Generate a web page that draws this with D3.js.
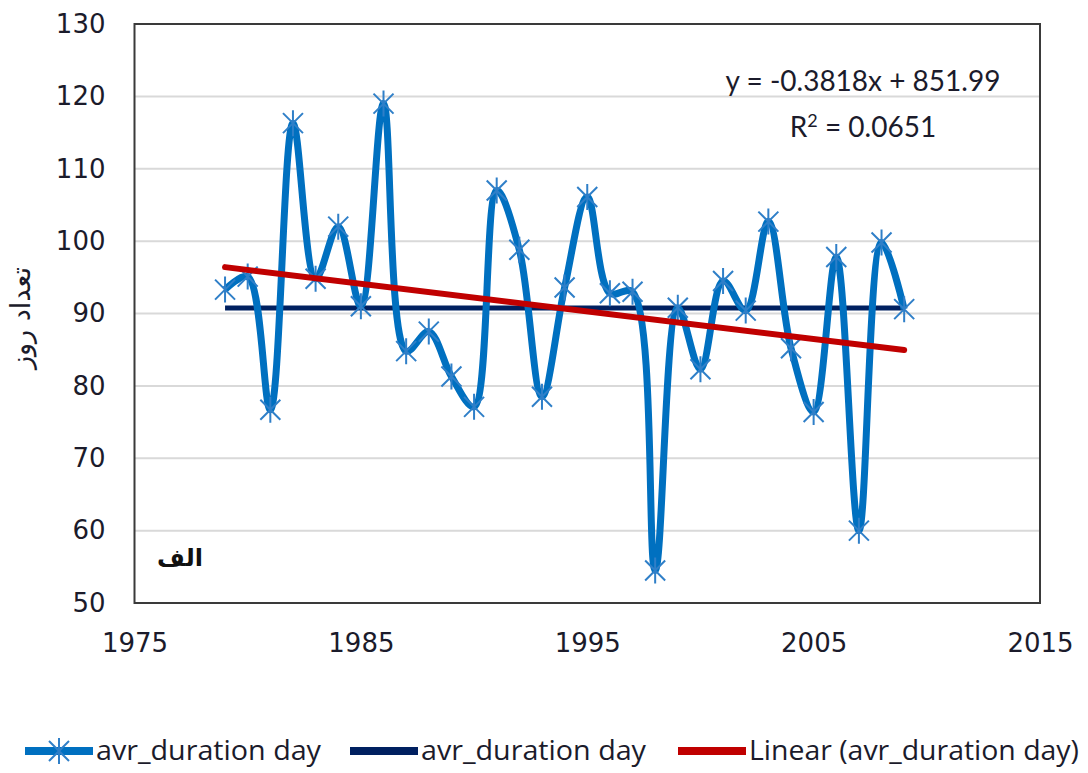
<!DOCTYPE html>
<html>
<head>
<meta charset="utf-8">
<script src="https://cdn.jsdelivr.net/npm/d3@7.9.0/dist/d3.min.js"></script>
<style>
  body { margin: 0; background: #fff; }
  svg { display: block; }
</style>
</head>
<body>
<svg id="chart" width="1088" height="773"></svg>
<script>
// Data
const years = d3.range(1979, 2010);
const durations = [93.3, 95.1, 76.7, 116.3, 94.8, 102.0, 91.0, 119.0, 84.8, 87.5,
  81.3, 77.1, 107.0, 98.8, 78.5, 93.6, 106.1, 92.8, 93.0, 54.5, 90.8, 82.3, 94.5,
  90.4, 102.7, 85.2, 76.4, 97.8, 60.0, 99.8, 90.6];
const trendCoef = [-0.3818, 851.99]; // slope, intercept
const trendR2 = 0.0651;
const xTicks = [1975, 1985, 1995, 2005, 2015];
const yTicks = [50, 60, 70, 80, 90, 100, 110, 120, 130];
const legendLabels = ["avr_duration day", "avr_duration day", "Linear (avr_duration day)"];
const yTitle = "تعداد روز";
const panelLabel = "الف";

const svg = d3.select("#chart");
const plot = { left: 134.5, right: 1040, top: 24, bottom: 603 };

const x = d3.scaleLinear().domain([1975, 2015]).range([plot.left, plot.right]);
const y = d3.scaleLinear().domain([50, 130]).range([plot.bottom, plot.top]);

const blue = "#0070C0";
const markerBlue = "#2f7fc8";
const navy = "#002060";
const red = "#C00000";
const textColor = "#1b1b2b";

// gridlines
svg.append("g")
  .selectAll("line")
  .data(yTicks.filter(d => d > 50 && d < 130))
  .join("line")
  .attr("x1", plot.left).attr("x2", plot.right)
  .attr("y1", d => y(d)).attr("y2", d => y(d))
  .attr("stroke", "#d9d9d9").attr("stroke-width", 2);

// axes (labels only, Excel style)
const yAxis = svg.append("g")
  .attr("transform", `translate(${plot.left},0)`)
  .call(d3.axisLeft(y).tickValues(yTicks).tickSize(0).tickPadding(29));
const xAxis = svg.append("g")
  .attr("transform", `translate(0,${plot.bottom})`)
  .call(d3.axisBottom(x).tickValues(xTicks).tickFormat(d3.format("d")).tickSize(0).tickPadding(31));
[yAxis, xAxis].forEach(g => {
  g.select(".domain").remove();
  g.selectAll("text")
    .attr("fill", textColor)
    .style("font-family", "DejaVu Sans, Verdana, sans-serif")
    .style("font-size", "26px");
});

// plot border
svg.append("rect")
  .attr("x", plot.left).attr("y", plot.top)
  .attr("width", plot.right - plot.left).attr("height", plot.bottom - plot.top)
  .attr("fill", "none").attr("stroke", "#3a3a3a").attr("stroke-width", 2);

// mean line
const meanVal = d3.mean(durations);
svg.append("line")
  .attr("x1", x(years[0])).attr("x2", x(years[years.length - 1]))
  .attr("y1", y(meanVal)).attr("y2", y(meanVal))
  .attr("stroke", navy).attr("stroke-width", 5);

// smoothed data line
const line = d3.line()
  .x((d, i) => x(years[i]))
  .y(d => y(d))
  .curve(d3.curveCatmullRom.alpha(0.5));
svg.append("path")
  .datum(durations)
  .attr("d", line)
  .attr("fill", "none")
  .attr("stroke", blue)
  .attr("stroke-width", 7)
  .attr("stroke-linejoin", "round");

// star markers
function star(g, s) {
  g.append("path")
    .attr("d", `M${-s},${-s}L${s},${s}M${-s},${s}L${s},${-s}M0,${-s * 1.3}L0,${s * 1.3}`)
    .attr("stroke", markerBlue).attr("stroke-width", 2).attr("fill", "none");
}
svg.append("g")
  .selectAll("g")
  .data(durations)
  .join("g")
  .attr("transform", (d, i) => `translate(${x(years[i])},${y(d)})`)
  .each(function () { star(d3.select(this), 10); });

// linear trend
const trend = yr => trendCoef[0] * yr + trendCoef[1];
svg.append("line")
  .attr("x1", x(years[0])).attr("y1", y(trend(years[0])))
  .attr("x2", x(years[years.length - 1])).attr("y2", y(trend(years[years.length - 1])))
  .attr("stroke", red).attr("stroke-width", 6).attr("stroke-linecap", "round");

// equation text
const eq = svg.append("g")
  .attr("font-family", "Lato, 'Open Sans', sans-serif")
  .attr("font-size", 28)
  .attr("fill", textColor)
  .attr("text-anchor", "middle");
eq.append("text")
  .attr("x", 863).attr("y", 91)
  .text(`y = ${trendCoef[0]}x + ${trendCoef[1]}`);
const r2 = eq.append("text").attr("x", 863).attr("y", 137);
r2.append("tspan").text("R");
r2.append("tspan").attr("dy", -10).attr("font-size", 18).text("2");
r2.append("tspan").attr("dy", 10).text(` = ${trendR2}`);

// panel label
svg.append("text")
  .attr("x", 180).attr("y", 566)
  .attr("text-anchor", "middle")
  .attr("font-family", "DejaVu Sans, sans-serif")
  .attr("font-weight", "bold")
  .attr("font-size", 24)
  .attr("fill", "#111")
  .text(panelLabel);

// y axis title
svg.append("text")
  .attr("transform", "translate(30,318) rotate(-90)")
  .attr("text-anchor", "middle")
  .attr("font-family", "DejaVu Sans, sans-serif")
  .attr("font-size", 27)
  .attr("fill", textColor)
  .text(yTitle);

// legend
const legendItems = [
  { x1: 25, x2: 93, color: blue, marker: true, tx: 96, tw: 225 },
  { x1: 350, x2: 418, color: navy, marker: false, tx: 421, tw: 225 },
  { x1: 678, x2: 746, color: red, marker: false, tx: 749, tw: 330 }
];
const legend = svg.append("g");
legendItems.forEach((it, i) => {
  const g = legend.append("g");
  g.append("line")
    .attr("x1", it.x1).attr("x2", it.x2).attr("y1", 751).attr("y2", 751)
    .attr("stroke", it.color).attr("stroke-width", 8);
  if (it.marker) {
    const m = g.append("g").attr("transform", `translate(${(it.x1 + it.x2) / 2},751)`);
    star(m, 10);
  }
  g.append("text")
    .attr("x", it.tx).attr("y", 760)
    .attr("font-family", "'Liberation Sans Narrow', 'Open Sans', sans-serif")
    .attr("font-size", 27)
    .attr("fill", textColor)
    .attr("textLength", it.tw)
    .attr("lengthAdjust", "spacingAndGlyphs")
    .text(legendLabels[i]);
});
</script>
</body>
</html>
